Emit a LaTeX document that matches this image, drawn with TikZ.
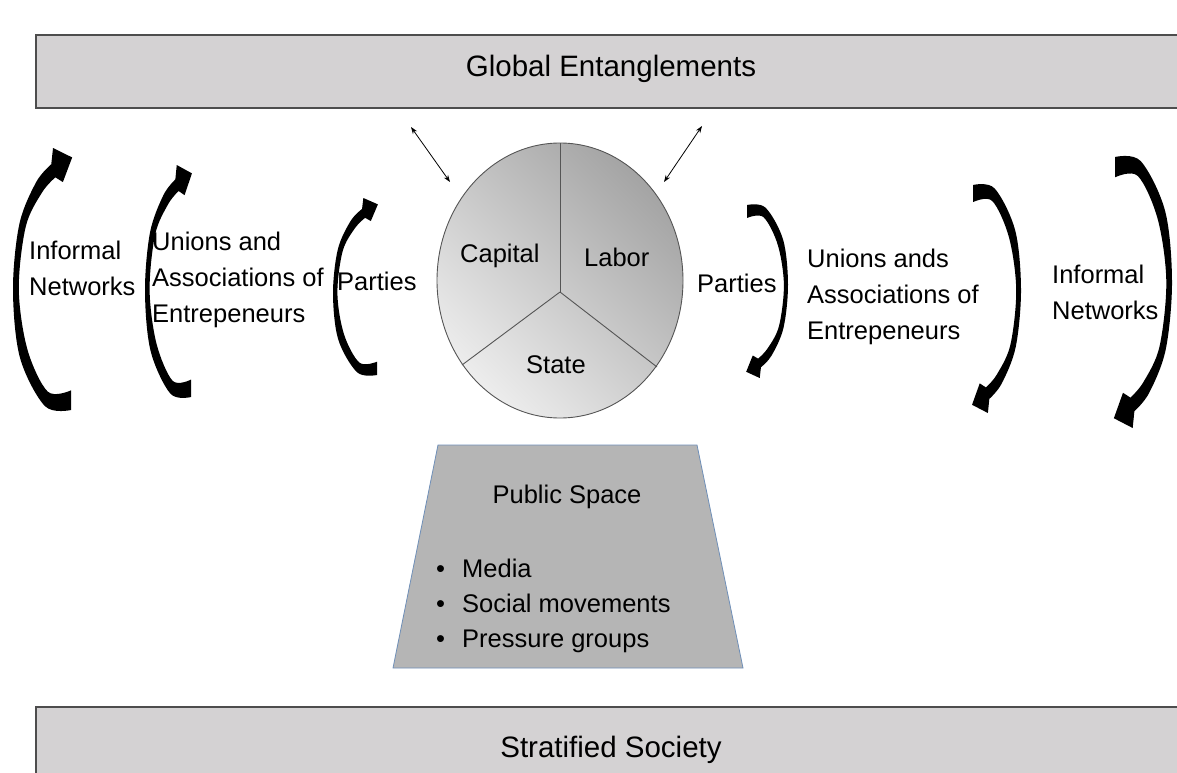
\documentclass[tikz,border=0pt]{standalone}
\usepackage{fontspec}
\setmainfont{Liberation Sans}
\usetikzlibrary{arrows.meta}

\definecolor{bandfill}{HTML}{D4D2D3}
\definecolor{bandline}{HTML}{4D4D4D}
\definecolor{pielight}{HTML}{EDEDED}
\definecolor{piedark}{HTML}{A4A4A4}
\definecolor{pieline}{HTML}{555555}
\definecolor{pubfill}{HTML}{B5B5B5}
\definecolor{publine}{HTML}{6F8FB8}

% One curved "crescent" arrow, drawn in a unit frame:
% #1,#2 origin; #3 length of the u axis; #4 length of the v axis (signed).
\newcommand\crescent[4]{%
  \begin{scope}[shift={(#1,#2)}, x={(#3pt,0pt)}, y={(0pt,#4pt)}]
    \fill[black]
      plot[smooth, tension=0.55] coordinates
        {(1,1) (0.55,0.985) (0.12,0.8) (0,0.54) (0.11,0.29) (0.4,0.13) (0.66,0.062)}
      -- (0.69,0.0) -- (1.02,0.036) -- (0.86,0.13)
      -- plot[smooth, tension=0.55] coordinates
        {(0.73,0.112) (0.5,0.17) (0.22,0.3) (0.1,0.54) (0.25,0.77) (0.6,0.93) (1,0.925)}
      -- cycle;
  \end{scope}}

\newcommand\stack[1]{\begin{tabular}[t]{@{}l@{}}#1\end{tabular}}

\tikzset{
  band/.style={draw=bandline, line width=1.3pt, fill=bandfill},
  title/.style={font=\fontsize{29.5}{36}\selectfont, inner sep=0pt, anchor=base},
  lbl/.style={font=\fontsize{25.5}{36}\selectfont, inner sep=0pt, anchor=base west},
  dbl/.style={line width=0.8pt, {Stealth[length=7pt,width=5pt]}-{Stealth[length=7pt,width=5pt]}},
}

\begin{document}
\begin{tikzpicture}[x=1pt, y=-1pt]
\useasboundingbox (0,0) rectangle (1177,773);

% outer bands
\draw[band] (36,35) rectangle (1190,108);
\node[title] (global) at (611,77) {Global Entanglements};
\draw[band] (36,707) rectangle (1190,790);
\node[title] (society) at (611,757) {Stratified Society};

% the central circle of capital, labor and state
\shade[shading=axis, top color=piedark, bottom color=pielight, shading angle=-45]
  (560,280.5) ellipse [x radius=123, y radius=137.5];
\draw[pieline, line width=0.9pt] (560,280.5) ellipse [x radius=123, y radius=137.5];
\coordinate (hub) at (560,292);
\draw[pieline, line width=0.9pt] (hub) -- (560,143);
\draw[pieline, line width=0.9pt] (hub) -- (462,365);
\draw[pieline, line width=0.9pt] (hub) -- (657,367);
\node[lbl] (capital) at (460,262) {Capital};
\node[lbl] (labor) at (584,266) {Labor};
\node[lbl] (state) at (526,373) {State};

% links between the circle and the global band
\coordinate (gl) at (411,127);
\coordinate (cl) at (450,182);
\coordinate (gr) at (702,126);
\coordinate (cr) at (664,182);
\draw[dbl] (gl) -- (cl);
\draw[dbl] (gr) -- (cr);

% left side: arrows curving upward
\crescent{13}{148}{58}{-262}
\crescent{145}{165}{46}{-232}
\crescent{333}{198}{44}{-177}
\node[lbl] (infl) at (29,259) {\stack{Informal\\Networks}};
\node[lbl] (unil) at (152,250) {\stack{Unions and\\Associations of\\Entrepeneurs}};
\node[lbl] (parl) at (337,290) {Parties};

% right side: arrows curving downward
\crescent{788}{378}{-41}{173}
\crescent{1021}{413}{-48}{228}
\crescent{1172}{428}{-57}{271}
\node[lbl] (parr) at (697,292) {Parties};
\node[lbl] (unir) at (807,267) {\stack{Unions ands\\Associations of\\Entrepeneurs}};
\node[lbl] (infr) at (1052,283) {\stack{Informal\\Networks}};

% public space
\draw[fill=pubfill, draw=publine, line width=0.8pt]
  (438,445) -- (697,445) -- (743,668) -- (393,668) -- cycle;
\node[lbl, anchor=base] (public) at (567,503) {Public Space};
\node[lbl] (items) at (436,577)
  {\stack{\makebox[26pt][l]{•}Media\\[-1pt]\makebox[26pt][l]{•}Social movements\\[-1pt]\makebox[26pt][l]{•}Pressure groups}};
\end{tikzpicture}
\end{document}
